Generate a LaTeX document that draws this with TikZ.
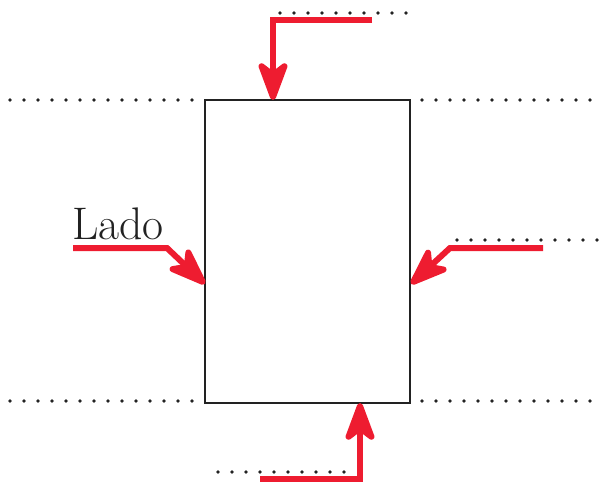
\documentclass[tikz,border=0pt]{standalone}
\usepackage{tikz}
\usetikzlibrary{arrows.meta}
\definecolor{arrowred}{HTML}{EE1C30}
\definecolor{boxgray}{HTML}{222222}

\begin{document}
\begin{tikzpicture}[
    x=0.02cm, y=-0.02cm,
    dots/.style={line width=0.075cm, line cap=round, dash pattern=on 0pt off 0.28cm, boxgray},
    push/.style={draw=arrowred, line width=0.12cm, miter limit=4,
      -{Stealth[length=0.95cm, width=0.7cm, inset=0.26cm, round, fill=arrowred]}}
]
  \useasboundingbox (0,0) rectangle (603,484);

  % Body
  \node[draw=boxgray, line width=0.04cm, inner sep=0pt,
        minimum width=4.1cm, minimum height=6.06cm] (box) at (307.5,251.5) {};

  % Dotted guide lines
  \coordinate (tl0) at (10,100);  \coordinate (tl1) at (196,100);
  \coordinate (tr0) at (422,100); \coordinate (tr1) at (598,100);
  \coordinate (bl0) at (10,401);  \coordinate (bl1) at (196,401);
  \coordinate (br0) at (422,401); \coordinate (br1) at (598,401);
  \coordinate (t0) at (280,13);   \coordinate (t1) at (408,13);
  \coordinate (r0) at (457,240);  \coordinate (r1) at (598,240);
  \coordinate (b0) at (218,472);  \coordinate (b1) at (346,472);
  \draw[dots] (tl0) -- (tl1);
  \draw[dots] (tr0) -- (tr1);
  \draw[dots] (bl0) -- (bl1);
  \draw[dots] (br0) -- (br1);
  \draw[dots] (t0) -- (t1);
  \draw[dots] (r0) -- (r1);
  \draw[dots] (b0) -- (b1);

  % Label
  \node[anchor=base west, inner sep=0pt, font=\fontsize{26}{30}\selectfont, text=boxgray]
    (lado) at (72,239) {Lado};

  % Arrow ends
  \coordinate (topS) at (372,20);  \coordinate (topK) at (273,20);  \coordinate (topE) at (273,100);
  \coordinate (botS) at (260,479); \coordinate (botK) at (360,479); \coordinate (botE) at (360,403);
  \coordinate (lefS) at (73,248);  \coordinate (lefK) at (167,248); \coordinate (lefE) at (205,284);
  \coordinate (rigS) at (543,248); \coordinate (rigK) at (450,248); \coordinate (rigE) at (411,284);

  % Red arrows
  \draw[push] (topS) -- (topK) -- (topE);
  \draw[push] (botS) -- (botK) -- (botE);
  \draw[push] (lefS) -- (lefK) -- (lefE);
  \draw[push] (rigS) -- (rigK) -- (rigE);
\end{tikzpicture}
\end{document}
